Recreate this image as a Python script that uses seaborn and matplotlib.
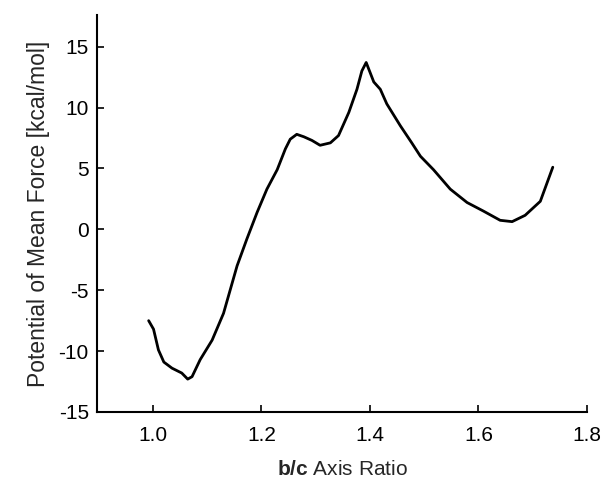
import matplotlib
matplotlib.use("Agg")
import matplotlib.pyplot as plt
import seaborn as sns
import pandas as pd

axis_ratio = [0.992, 1.001, 1.010, 1.020, 1.035, 1.053, 1.064, 1.072, 1.087, 1.109,
              1.130, 1.155, 1.173, 1.192, 1.210, 1.229, 1.244, 1.253, 1.265, 1.278,
              1.293, 1.308, 1.327, 1.342, 1.361, 1.376, 1.385, 1.393, 1.407, 1.419,
              1.431, 1.456, 1.477, 1.493, 1.517, 1.548, 1.579, 1.609, 1.640, 1.662,
              1.686, 1.714, 1.737]
pmf = [-7.5, -8.2, -9.9, -10.9, -11.4, -11.8, -12.3, -12.1, -10.7, -9.1,
       -6.9, -3.0, -0.8, 1.4, 3.3, 4.9, 6.6, 7.4, 7.8, 7.6,
       7.3, 6.9, 7.1, 7.7, 9.6, 11.5, 13.0, 13.7, 12.1, 11.5,
       10.3, 8.5, 7.1, 6.0, 4.9, 3.3, 2.2, 1.5, 0.74, 0.63,
       1.15, 2.3, 5.1]
x_ticks = [1.0, 1.2, 1.4, 1.6, 1.8]
y_ticks = [-15, -10, -5, 0, 5, 10, 15]

sns.set_style("ticks")
plt.rcParams["font.family"] = ["Liberation Sans", "DejaVu Sans"]
plt.rcParams["mathtext.fontset"] = "custom"
plt.rcParams["mathtext.bf"] = "Liberation Sans:bold"
plt.rcParams["mathtext.rm"] = "Liberation Sans"

df = pd.DataFrame({"x": axis_ratio, "y": pmf})

fig = plt.figure(figsize=(6.07, 4.83), dpi=100)
ax = fig.add_axes([0.160, 0.147, 0.807, 0.822])
sns.lineplot(data=df, x="x", y="y", sort=False, color="black", linewidth=2.0, ax=ax)

ax.set_xlim(0.897, 1.8)
ax.set_ylim(-15, 17.6)
ax.set_xticks(x_ticks)
ax.set_xticklabels([f"{t:.1f}" for t in x_ticks])
ax.set_yticks(y_ticks)
ax.set_yticklabels([str(t) for t in y_ticks])
ax.tick_params(direction="in", length=5, width=1.2, labelsize=15, colors="black")
ax.tick_params(axis="x", pad=10)
ax.tick_params(axis="y", pad=6)
for s in ["left", "bottom"]:
    ax.spines[s].set_linewidth(1.5)
    ax.spines[s].set_color("black")
sns.despine(ax=ax)

ax.set_xlabel(r"$\mathbf{b/c}$ Axis Ratio", fontsize=15, labelpad=11)
ax.set_ylabel("Potential of Mean Force [kcal/mol]", fontsize=16.5, labelpad=6)

fig.savefig("out.png", dpi=100)
